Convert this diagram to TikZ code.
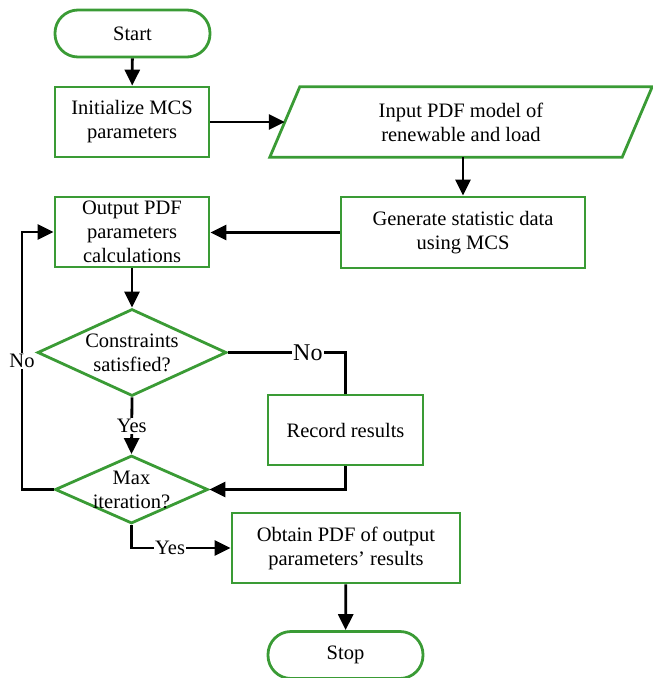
\documentclass[tikz,border=0pt]{standalone}
\usepackage{fontspec}
\setmainfont{Liberation Serif}
\usetikzlibrary{arrows.meta,shapes.geometric,calc}
\definecolor{fcgreen}{RGB}{58,155,53}
\begin{document}
\begin{tikzpicture}[x=1pt,y=-1pt,
  txt/.style={font=\fontsize{20.5}{24}\selectfont, align=center},
  base/.style={draw=fcgreen, line width=2.8pt, inner sep=0pt, txt},
  term/.style={base, rectangle, rounded corners=23pt, minimum width=155pt, minimum height=47pt},
  proc/.style={base, rectangle, minimum height=70pt},
  dec/.style={draw=fcgreen, line width=2.8pt, inner sep=0pt, diamond},
  io/.style={txt, rectangle, inner sep=0pt, minimum width=382pt, minimum height=70pt},
  conn/.style={line width=2.8pt, black},
  arr/.style={conn, -{Triangle[length=16pt,width=15pt]}},
  lab/.style={fill=white, inner sep=1pt, txt}]
\useasboundingbox (0,0) rectangle (653,678);
\node[term] (start) at (132.5,33.5) {Start};
\node[proc, minimum width=154pt] (init) at (132,122) {Initialize MCS\\parameters};
\node[io] (para) at (461,122) {Input PDF model of\\renewable and load};
\draw[draw=fcgreen, line width=2.8pt, line join=miter]
  (para.south west) -- ($(para.north west)+(30,0)$) -- (para.north east)
  -- ($(para.south east)+(-30,0)$) -- cycle;
\node[proc, minimum width=244pt, minimum height=71pt] (gen) at (463,232.5) {Generate statistic data\\using MCS};
\node[proc, minimum width=154pt] (out) at (132,232) {Output PDF\\parameters\\calculations};
\node[dec, minimum width=189pt, minimum height=87pt] (d1) at (132,352.5) {};
\node[txt] (d1t) at (d1) {Constraints\\satisfied?};
\node[proc, minimum width=155pt] (rec) at (345.5,430) {Record results};
\node[dec, minimum width=153pt, minimum height=68pt] (d2) at (131.5,489.5) {};
\node[txt] (d2t) at (d2) {Max\\iteration?};
\node[proc, minimum width=228pt] (obt) at (346,548) {Obtain PDF of output\\parameters' results};
\node[term] (stop) at (345.5,655) {Stop};
\coordinate (lx) at (22,0);

\draw[arr] (start) -- (init);
\draw[arr] (init.east) -- ($(para.west)+(15,0)$);
\draw[arr] (gen.north |- para.south) -- (gen.north);
\draw[arr] (gen.west) -- (gen.west -| out.east);
\draw[arr] (out) -- (d1.north);
\draw[conn] (d1.east) -- (d1.east -| rec.north) node[lab, pos=0.68, font=\fontsize{24}{26}\selectfont]{No} -- (rec.north);
\draw[arr] (rec.south) |- (d2.east);
\draw[arr] (d1.south) -- node[lab]{Yes} (d2.north);
\draw[arr] (d2.west) -- (d2.west -| lx) -- node[lab]{No} (out.west -| lx) -- (out.west);
\draw[arr] (d2.south) |- node[lab, pos=0.695]{Yes} (obt.west);
\draw[arr] (obt) -- (stop);
\end{tikzpicture}
\end{document}
